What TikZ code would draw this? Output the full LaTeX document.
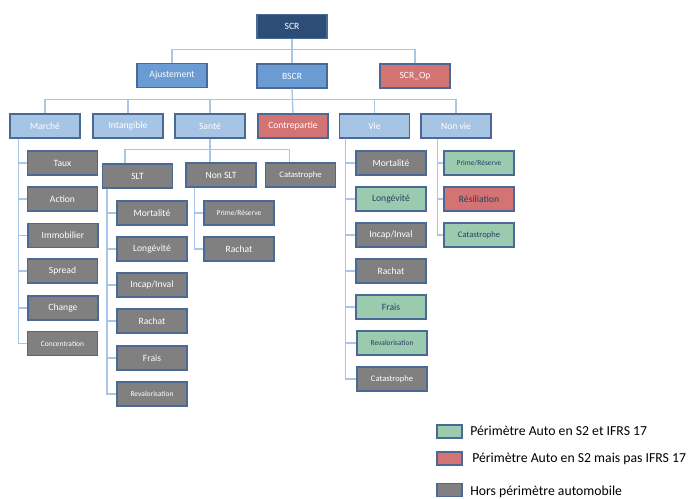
\documentclass[tikz,border=0pt]{standalone}
\usepackage{fontspec}
\setmainfont{Carlito}
\definecolor{navyc}{RGB}{44,77,117}
\definecolor{midbluec}{RGB}{106,155,210}
\definecolor{lightbluec}{RGB}{166,196,228}
\definecolor{redc}{RGB}{211,115,115}
\definecolor{grayc}{RGB}{128,128,128}
\definecolor{greenc}{RGB}{155,203,175}
\definecolor{bordc}{RGB}{74,106,149}
\definecolor{connc}{RGB}{170,198,230}
\definecolor{darktxtc}{RGB}{40,62,100}
\begin{document}
\begin{tikzpicture}[x=0.75pt,y=0.75pt,yscale=-1,xscale=1,
	box/.style={draw=bordc,line width=1.1pt,minimum width=52.5pt,minimum height=18pt,inner sep=0pt,font=\fontsize{7.2}{8}\selectfont},
	navybox/.style={box,fill=navyc,text=white},
	midbox/.style={box,fill=midbluec,text=white},
	lightbox/.style={box,fill=lightbluec,text=white},
	redbox/.style={box,fill=redc,text=white},
	graybox/.style={box,fill=grayc,text=white},
	greenbox/.style={box,fill=greenc,text=darktxtc},
	smalltxt/.style={font=\fontsize{5.6}{6}\selectfont},
	midtxt/.style={font=\fontsize{6.4}{7}\selectfont},
	legbox/.style={draw=bordc,line width=1.1pt,minimum width=18.75pt,minimum height=9.75pt,inner sep=0pt},
	legtxt/.style={anchor=west,inner sep=0pt,font=\fontsize{10.3}{12}\selectfont},
	conn/.style={draw=connc,line width=1pt}]
	\useasboundingbox (0,0) rectangle (690,499);
	
	% Text Node
	\draw (292,26.5) node[navybox] (scr) {SCR};
	% Text Node
	\draw (172,75.5) node[midbox] (ajust) {Ajustement};
	% Text Node
	\draw (292,76) node[midbox] (bscr) {BSCR};
	% Text Node
	\draw (415,76) node[redbox] (scrop) {SCR\_Op};
	
	% Text Node
	\draw (45,126) node[lightbox] (marche) {Marché};
	% Text Node
	\draw (128,126) node[lightbox] (intang) {Intangible};
	% Text Node
	\draw (210,126) node[lightbox] (sante) {Santé};
	% Text Node
	\draw (293,126) node[redbox] (contre) {Contrepartie};
	% Text Node
	\draw (374.5,126) node[lightbox] (vie) {Vie};
	% Text Node
	\draw (456,126) node[lightbox] (nonvie) {Non vie};
	
	% Text Node
	\draw (62.5,163) node[graybox] (taux) {Taux};
	% Text Node
	\draw (62.5,199) node[graybox] (action) {Action};
	% Text Node
	\draw (63,235.5) node[graybox] (immo) {Immobilier};
	% Text Node
	\draw (62.5,271) node[graybox] (spread) {Spread};
	% Text Node
	\draw (63,308) node[graybox] (change) {Change};
	% Text Node
	\draw (62.5,343.5) node[graybox,smalltxt] (concen) {Concentration};
	
	% Text Node
	\draw (137.5,176) node[graybox] (slt) {SLT};
	% Text Node
	\draw (221,175) node[graybox] (nonslt) {Non SLT};
	% Text Node
	\draw (300.5,175) node[graybox,midtxt] (catsante) {Catastrophe};
	
	% Text Node
	\draw (152,213) node[graybox] (sltmort) {Mortalité};
	% Text Node
	\draw (152,249) node[graybox] (sltlong) {Longévité};
	% Text Node
	\draw (152,285) node[graybox] (sltincap) {Incap/Inval};
	% Text Node
	\draw (152,321) node[graybox] (sltrachat) {Rachat};
	% Text Node
	\draw (152,358) node[graybox] (sltfrais) {Frais};
	% Text Node
	\draw (152,394) node[graybox,smalltxt] (sltreval) {Revalorisation};
	
	% Text Node
	\draw (239,213) node[graybox,smalltxt] (nsltprime) {Prime/Réserve};
	% Text Node
	\draw (239,249) node[graybox] (nsltrachat) {Rachat};
	
	% Text Node
	\draw (391,163) node[graybox] (viemort) {Mortalité};
	% Text Node
	\draw (391,199) node[greenbox] (vielong) {Longévité};
	% Text Node
	\draw (391,235) node[graybox] (vieincap) {Incap/Inval};
	% Text Node
	\draw (391,271) node[graybox] (vierachat) {Rachat};
	% Text Node
	\draw (391,307) node[greenbox] (viefrais) {Frais};
	% Text Node
	\draw (392,343) node[greenbox,smalltxt] (viereval) {Revalorisation};
	% Text Node
	\draw (392,379) node[graybox,midtxt] (viecat) {Catastrophe};
	
	% Text Node
	\draw (479,163) node[greenbox,smalltxt] (nvprime) {Prime/Réserve};
	% Text Node
	\draw (479,199) node[redbox,text=darktxtc] (nvresil) {Résiliation};
	% Text Node
	\draw (479,235) node[greenbox,midtxt] (nvcat) {Catastrophe};
	
	% Connection
	\draw[conn] (scr.south) -- (bscr.north);
	\draw[conn] (ajust.north) -- ++(0,-13) -| (scrop.north);
	% Connection
	\draw[conn] (bscr.south) -- (contre.north);
	\draw[conn] (marche.north) -- ++(0,-14) -| (nonvie.north);
	\draw[conn] (intang.north) -- ++(0,-14);
	\draw[conn] (sante.north) -- ++(0,-14);
	\draw[conn] (vie.north) -- ++(0,-14);
	% Connection
	\draw[conn] ([xshift=7]marche.south west) |- (taux.west);
	\draw[conn] ([xshift=7]marche.south west) |- (action.west);
	\draw[conn] ([xshift=7]marche.south west) |- (immo.west);
	\draw[conn] ([xshift=7]marche.south west) |- (spread.west);
	\draw[conn] ([xshift=7]marche.south west) |- (change.west);
	\draw[conn] ([xshift=7]marche.south west) |- (concen.west);
	% Connection
	\draw[conn] (sante.south) -- (sante.south |- nonslt.north);
	\draw[conn] ([xshift=-9.5]slt.north) -- ++(0,-14) -| ([xshift=-8.5]catsante.north);
	% Connection
	\draw[conn] ([xshift=4]slt.south west) |- (sltmort.west);
	\draw[conn] ([xshift=4]slt.south west) |- (sltlong.west);
	\draw[conn] ([xshift=4]slt.south west) |- (sltincap.west);
	\draw[conn] ([xshift=4]slt.south west) |- (sltrachat.west);
	\draw[conn] ([xshift=4]slt.south west) |- (sltfrais.west);
	\draw[conn] ([xshift=4]slt.south west) |- (sltreval.west);
	% Connection
	\draw[conn] ([xshift=7]nonslt.south west) |- (nsltprime.west);
	\draw[conn] ([xshift=7]nonslt.south west) |- (nsltrachat.west);
	% Connection
	\draw[conn] ([xshift=5]vie.south west) |- (viemort.west);
	\draw[conn] ([xshift=5]vie.south west) |- (vielong.west);
	\draw[conn] ([xshift=5]vie.south west) |- (vieincap.west);
	\draw[conn] ([xshift=5]vie.south west) |- (vierachat.west);
	\draw[conn] ([xshift=5]vie.south west) |- (viefrais.west);
	\draw[conn] ([xshift=5]vie.south west) |- (viereval.west);
	\draw[conn] ([xshift=5]vie.south west) |- (viecat.west);
	% Connection
	\draw[conn] ([xshift=13]nonvie.south west) |- (nvprime.west);
	\draw[conn] ([xshift=13]nonvie.south west) |- (nvresil.west);
	\draw[conn] ([xshift=13]nonvie.south west) |- (nvcat.west);
	
	% Legend
	\draw (449.5,431.5) node[legbox,fill=greenc] (leggreen) {};
	\draw (470,431) node[legtxt] (leggreentxt) {Périmètre Auto en S2 et IFRS 17};
	\draw (449.5,458.5) node[legbox,fill=redc] (legred) {};
	\draw (472,459) node[legtxt] (legredtxt) {Périmètre Auto en S2 mais pas IFRS 17};
	\draw (449.5,490) node[legbox,fill=grayc] (leggray) {};
	\draw (470,492) node[legtxt] (leggraytxt) {Hors périmètre automobile};
	
\end{tikzpicture}
\end{document}
